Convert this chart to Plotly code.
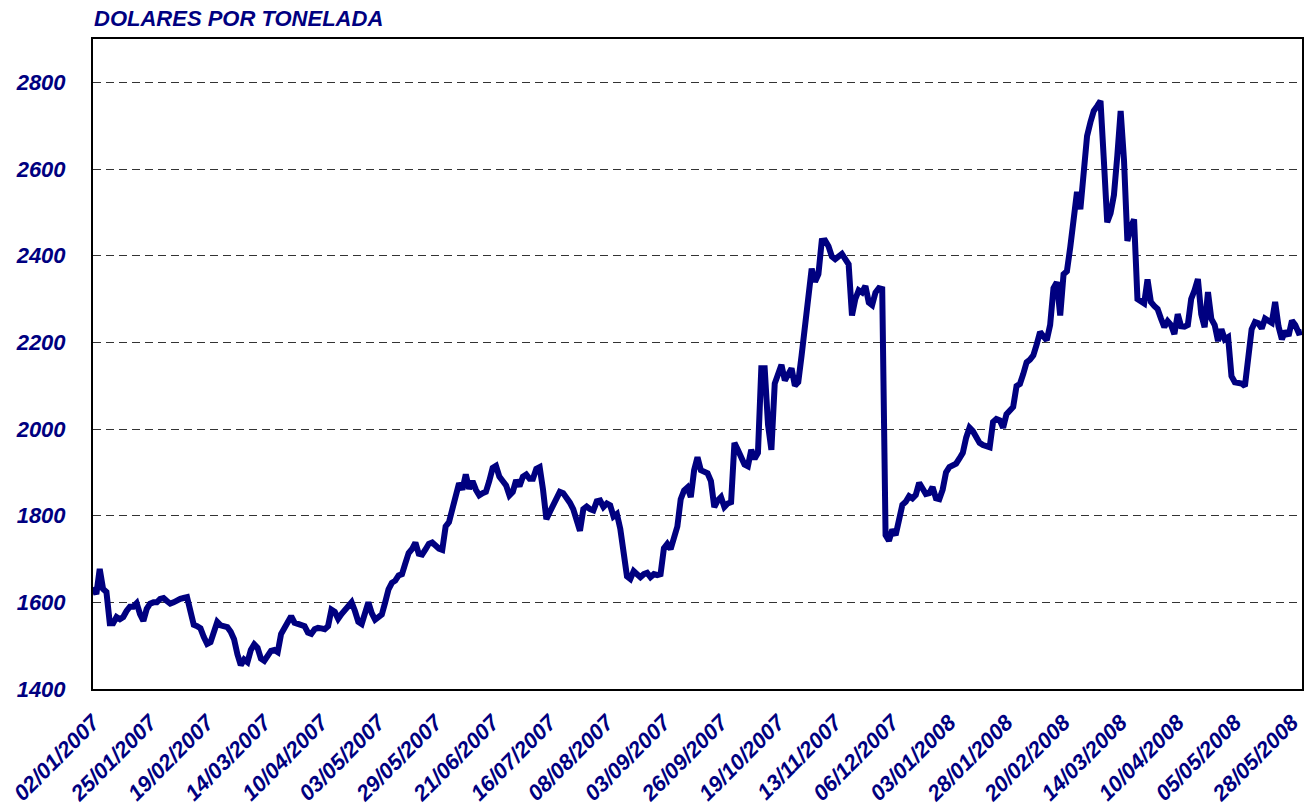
import plotly.graph_objects as go

# category labels shown under the axis, one every LABEL_STEP sessions
TICK_LABELS = [
    "02/01/2007", "25/01/2007", "19/02/2007", "14/03/2007", "10/04/2007",
    "03/05/2007", "29/05/2007", "21/06/2007", "16/07/2007", "08/08/2007",
    "03/09/2007", "26/09/2007", "19/10/2007", "13/11/2007", "06/12/2007",
    "03/01/2008", "28/01/2008", "20/02/2008", "14/03/2008", "10/04/2008",
    "05/05/2008", "28/05/2008",
]
LABEL_STEP = 17

# daily price, USD per tonne
PRICES_2007 = [
    1635, 1619, 1677, 1631, 1624, 1552, 1552, 1566, 1561, 1566, 1580, 1590, 1590, 1598, 1573, 1557, 1585, 1597,
    1600, 1600, 1608, 1610, 1603, 1597, 1600, 1605, 1608, 1610, 1612, 1580, 1548, 1545, 1540, 1520, 1504,
    1508, 1535, 1555, 1547, 1545, 1543, 1532, 1515, 1480, 1455, 1468, 1462, 1490, 1503, 1495, 1470, 1465,
    1478, 1488, 1490, 1485, 1527, 1540, 1555, 1568, 1553, 1550, 1546, 1545, 1530, 1527, 1538, 1541, 1540, 1538,
    1545, 1583, 1578, 1562, 1573, 1582, 1590, 1600, 1580, 1555, 1550, 1575, 1600, 1575, 1560, 1566, 1572,
    1600, 1630, 1645, 1650, 1662, 1665, 1690, 1714, 1723, 1738, 1712, 1710, 1722, 1735, 1738, 1730, 1724,
    1721, 1775, 1785, 1820, 1850, 1875, 1860, 1895, 1862, 1880, 1860, 1847, 1852, 1855, 1880, 1910, 1915,
    1890, 1880, 1870, 1847, 1855, 1882, 1868, 1890, 1895, 1885, 1885, 1908, 1912, 1860, 1792, 1808, 1825,
    1836, 1855, 1852, 1842, 1830, 1815, 1790, 1765, 1815, 1821, 1815, 1812, 1833, 1835, 1820, 1828, 1824,
    1798, 1804, 1770, 1715, 1660, 1654, 1672, 1665, 1658, 1665, 1668, 1658, 1665, 1663, 1665, 1725, 1735,
    1723, 1755, 1775, 1838, 1858, 1865, 1843, 1905, 1935, 1905, 1902, 1898, 1880, 1820, 1835, 1843, 1820, 1828,
    1831, 1968, 1952, 1935, 1918, 1914, 1952, 1931, 1945, 2140, 2140, 2010, 1952, 2105, 2130, 2148, 2112,
    2125, 2140, 2100, 2108, 2170, 2230, 2300, 2370, 2340, 2357, 2434, 2435, 2422, 2398, 2392, 2399, 2404,
    2392, 2380, 2262, 2300, 2320, 2315, 2330, 2292, 2286, 2315, 2325, 2323, 1755, 1742, 1768, 1755, 1790,
    1825, 1832, 1845, 1840, 1848, 1876, 1860, 1850, 1852, 1866, 1840, 1838, 1860, 1900, 1912, 1916,
]
PRICES_2008 = [
    1920,
    1932, 1945, 1980, 2003, 1995, 1982, 1968, 1963, 1961, 1958, 2016, 2023, 2020, 2003, 2034, 2042, 2051, 2099,
    2104, 2127, 2154, 2160, 2170, 2195, 2224, 2214, 2205, 2240, 2325, 2339, 2262, 2357, 2364, 2420, 2480,
    2547, 2507, 2607, 2676, 2708, 2734, 2745, 2757, 2620, 2477, 2498, 2540, 2630, 2734, 2620, 2434, 2465,
    2484, 2300, 2293, 2290, 2345, 2293, 2284, 2277, 2255, 2235, 2249, 2240, 2219, 2265, 2237, 2236, 2240,
    2300, 2320, 2346, 2265, 2235, 2316, 2254, 2240, 2203, 2230, 2207, 2212, 2122, 2108, 2108, 2105, 2099,
    2175, 2230, 2247, 2244, 2232, 2255, 2250, 2245, 2293, 2237, 2207, 2226, 2215, 2250, 2240, 2222, 2224,
]

NAVY = "#000080"
TEXT_FONT = dict(family="Liberation Sans, Arial, sans-serif", size=22, color=NAVY,
                 weight="bold", style="italic")

prices = PRICES_2007 + PRICES_2008
sessions = list(range(len(prices)))
tick_vals = [i * LABEL_STEP for i in range(len(TICK_LABELS))]

fig = go.Figure()
fig.add_trace(go.Scatter(x=sessions, y=prices, mode="lines",
                         line=dict(color=NAVY, width=6), hoverinfo="y"))

fig.update_layout(
    width=1305,
    height=809,
    margin=dict(l=93, r=3, t=39, b=120),
    paper_bgcolor="white",
    plot_bgcolor="white",
    showlegend=False,
)
fig.add_annotation(text="DOLARES POR TONELADA", font=TEXT_FONT, showarrow=False,
                   xref="paper", yref="paper", x=0, y=1, xanchor="left", yanchor="bottom",
                   xshift=-1, yshift=6)
fig.update_xaxes(
    range=[0, len(prices) - 1],
    tickvals=tick_vals,
    ticktext=TICK_LABELS,
    tickangle=-45,
    tickfont=TEXT_FONT,
    ticks="",
    ticklabelstandoff=10,
    ticklabeloverflow="allow",
    automargin=False,
    showgrid=False,
    zeroline=False,
    showline=True,
    mirror=True,
    linecolor="black",
    linewidth=2,
)
fig.update_yaxes(
    range=[1400, 2900],
    tick0=1400,
    dtick=200,
    tickfont=TEXT_FONT,
    ticks="",
    ticklabelstandoff=21,
    automargin=False,
    showgrid=True,
    gridcolor="#333333",
    gridwidth=1,
    griddash="8px,5px",
    zeroline=False,
    showline=True,
    mirror=True,
    linecolor="black",
    linewidth=2,
)

# drop the default 8px page margin so the figure fills the window exactly
fig.write_html("out.html", config={"displayModeBar": False},
               post_script="document.body.style.margin = '0';")
